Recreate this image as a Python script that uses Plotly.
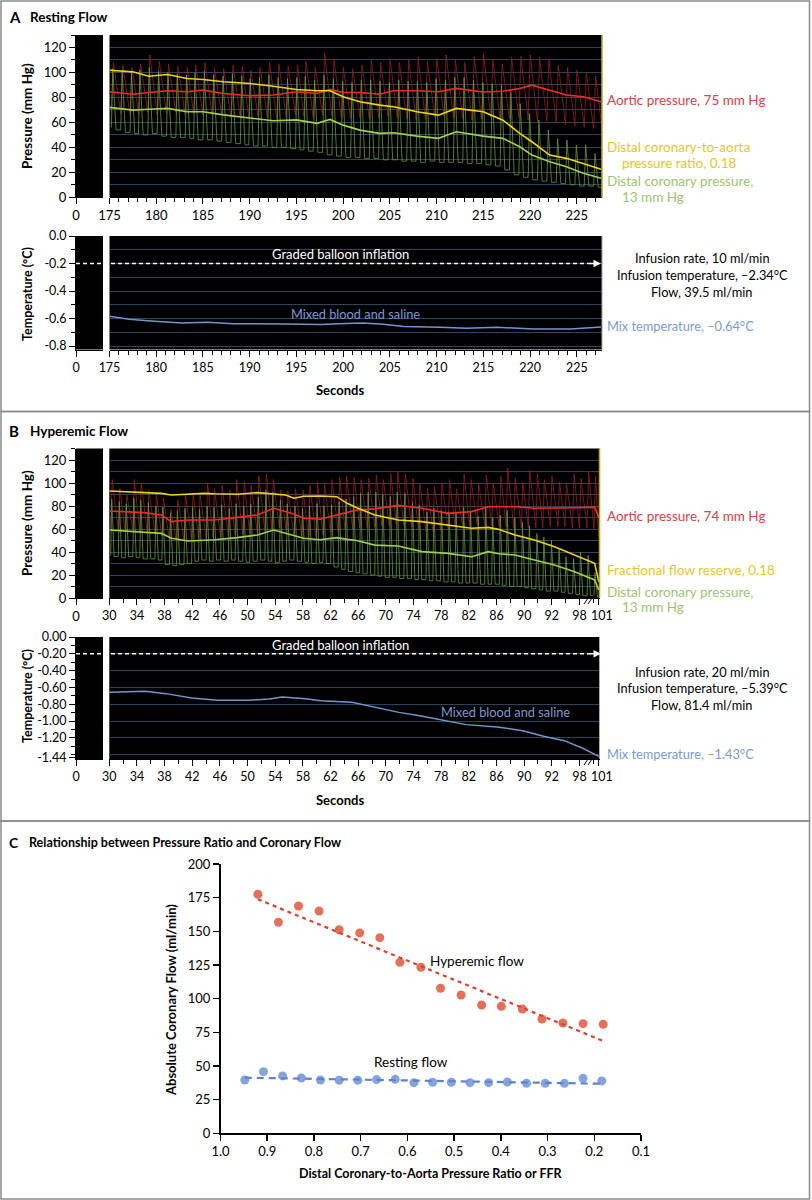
import plotly.graph_objects as go

W, H = 812, 1200
LATO = "Lato, Open Sans, sans-serif"
NARROW = "Lato, Open Sans, sans-serif"

# ---------------- Panel A: resting flow ----------------
A_beat_t = [175.2, 176.2, 177.2, 178.1, 179.1, 180.1, 181.1, 182.1, 183.1, 184.0,
            185.0, 186.0, 187.0, 188.0, 189.0, 189.9, 190.9, 191.9, 192.9, 193.9,
            194.9, 195.8, 196.8, 197.8, 198.8, 199.8, 200.8, 201.8, 202.8, 203.8,
            204.8, 205.8, 206.8, 207.8, 208.8, 209.8, 210.8, 211.8, 212.8, 213.8,
            214.8, 215.8, 216.8, 217.8, 218.8, 219.8, 220.8, 221.8, 222.8, 223.8,
            224.8, 225.8, 226.8, 227.7]
A_aortic_sys = [108, 106, 104, 107, 114, 109, 107, 105, 104, 106, 108, 104, 103, 106, 105, 102,
                104, 108, 107, 105, 106, 109, 104, 115, 110, 104, 103,
                106, 110, 108, 111, 108, 110, 112, 109, 111, 114, 110, 108, 113, 115, 110, 107,
                112, 113, 114, 112, 110, 106, 104, 102, 100, 97]
A_aortic_dia = [68, 67, 66, 67, 68, 66, 67, 68, 66, 67, 66, 65, 66, 64, 63, 64, 65, 64, 63, 64,
                66, 65, 64, 66, 65, 64, 63,
                64, 63, 64, 65, 64, 63, 62, 63, 64, 65, 64, 63, 62, 63, 64, 62, 63, 64, 62, 60,
                61, 60, 58, 57, 56, 55, 55]
A_distal_sys = [103, 101, 100, 102, 104, 101, 100, 99, 98, 100, 101, 98, 97, 99, 97, 95, 96, 98,
                96, 95, 96, 97, 94, 98, 95, 93, 92,
                94, 94, 93, 92, 94, 93, 93, 92, 95, 94, 96, 96, 94, 92, 91, 90, 84, 75, 67, 62,
                54, 47, 46, 42, 42, 35]
A_distal_dia = [56, 54, 52, 51, 50, 51, 49, 48, 48, 47, 46, 46, 45, 44, 43, 42, 41, 41, 40, 40,
                39, 38, 37, 36, 34, 33, 32,
                32, 31, 31, 30, 30, 29, 29, 28, 29, 28, 28, 28, 27, 27, 26, 25, 22, 18, 16, 14,
                13, 12, 11, 10, 9, 9, 8]

A_mean_t = [175.0, 177.5, 179.2, 181.2, 183.3, 185.0, 187.2, 190.0, 192.5, 195.0, 197.2, 198.6,
            200.0, 201.8, 203.9, 205.4, 207.9, 210.2, 212.1, 215.0, 217.1, 218.9, 220.2, 222.1,
            223.9, 225.7, 227.6]
A_ratio = [101.8, 100.5, 97.0, 98.4, 95.2, 94.4, 92.5, 91.2, 89.0, 86.4, 85.3, 85.3, 80.5, 76.5,
           73.8, 72.5, 68.5, 65.8, 71.2, 68.5, 61.8, 51.2, 44.5, 33.8, 31.2, 27.2, 22.4]
A_aortic_mean = [84.5, 82.6, 84.0, 85.3, 84.5, 85.8, 83.2, 81.3, 82.0, 84.5, 83.2, 86.4, 84.0,
                 84.0, 82.6, 85.3, 85.3, 84.5, 87.2, 84.3, 85.0, 87.2, 89.8, 85.8, 82.0, 80.5, 76.5]
A_distal_mean = [72.0, 69.8, 70.5, 71.2, 68.5, 68.5, 66.0, 63.2, 61.3, 62.0, 59.2, 62.4, 57.8,
                 53.8, 51.2, 51.7, 49.0, 47.2, 52.5, 49.0, 47.2, 40.5, 33.8, 28.5, 24.5, 19.2, 15.2]

A_temp_t = [175.0, 177.1, 179.4, 182.7, 185.5, 188.2, 193.8, 197.6, 199.5, 202.1, 204.3, 206.5,
            210.4, 213.2, 216.5, 218.7, 220.4, 224.3, 227.6]
A_temp = [-0.584, -0.605, -0.618, -0.632, -0.627, -0.637, -0.640, -0.644, -0.637, -0.632, -0.642,
          -0.657, -0.664, -0.671, -0.664, -0.669, -0.676, -0.676, -0.662]

A_xticks = [175, 180, 185, 190, 195, 200, 205, 210, 215, 220, 225]

# ---------------- Panel B: hyperemic flow ----------------
B_beat_t = [30.2, 31.3, 32.3, 33.4, 34.4, 35.5, 36.6, 37.6, 38.7, 39.7, 40.8, 41.9, 42.9, 44.0,
            45.0, 46.1, 47.2, 48.2, 49.3, 50.3, 51.4, 52.5, 53.5, 54.6, 55.6, 56.7, 57.8, 58.8,
            59.9, 60.9, 62.0, 63.1, 64.1, 65.2, 66.2, 67.3, 68.4, 69.4, 70.5, 71.5, 72.6, 73.7,
            74.7, 75.8, 76.8, 77.9, 79.0, 80.0, 81.1, 82.1, 83.2, 84.3, 85.3, 86.4, 87.4, 88.5,
            89.6, 90.6, 91.7, 92.7, 93.8, 94.9, 95.9, 97.0, 98.0, 99.1, 100.1, 100.8]
B_aortic_sys = [103, 95, 90, 103, 100, 94, 90, 87, 77, 85, 90, 91, 90, 100, 95, 98, 94, 103, 101,
                98, 106, 108, 103, 94, 93, 95, 94, 98, 101, 100, 103, 105, 106, 105,
                103, 104, 107, 103, 108, 110, 108, 104, 100, 95, 97, 100, 103, 95, 108, 103, 100,
                107, 100, 106, 113, 104, 101, 111, 108, 103, 106, 101, 100, 108, 104, 110, 106]
B_aortic_dia = [60, 59, 58, 59, 58, 57, 56, 54, 50, 49, 50, 51, 52, 52, 53, 53, 54, 55, 55, 56,
                57, 58, 60, 61, 58, 55, 54, 53, 53, 55, 57, 58, 59, 60, 61, 61, 62, 63, 63, 64,
                63, 62, 60, 58, 58, 59, 60, 62, 63, 63, 64, 63, 63, 62, 62, 61, 61, 61, 61, 61,
                62, 62, 62, 61, 61, 61, 60, 52]
B_distal_sys = [86, 84, 82, 87, 85, 83, 80, 79, 74, 76, 78, 79, 77, 80, 79, 81, 78, 82, 80, 82,
                88, 94, 92, 85, 82, 80, 78, 80, 82, 80, 81, 84, 86, 88,
                91, 92, 92, 90, 88, 92, 91, 83, 81, 75, 78, 76, 75, 75, 79, 76, 71, 78, 70, 72,
                76, 70, 66, 63, 56, 53, 50, 42, 36, 34, 40, 37, 22]
B_distal_dia = [37, 36, 35, 36, 35, 34, 34, 33, 29, 28, 29, 30, 32, 33, 32, 33, 32, 33, 32, 31,
                32, 33, 32, 31, 32, 33, 32, 31, 30, 31, 30, 27, 25, 23, 22, 21, 20, 19, 18, 18,
                17, 17, 16, 16, 15, 15, 14, 14, 13, 13, 13, 12, 12, 12, 11, 10, 10, 9, 8, 7,
                6, 6, 5, 4, 3, 2, 2, 1]

B_mean_t = [30.0, 35.1, 37.5, 39.0, 41.4, 43.7, 45.2, 48.5, 51.4, 53.8, 55.5, 56.7, 58.1, 60.5,
            62.9, 64.4, 65.8, 68.4, 71.8, 75.2, 79.0, 82.4, 84.8, 86.3, 88.7, 91.5, 94.4, 97.3,
            100.2, 100.8]
B_ffr = [93.0, 91.9, 91.0, 89.6, 90.5, 91.0, 90.6, 90.2, 91.6, 90.2, 89.5, 86.7, 88.5, 88.7,
         88.1, 82.3, 78.5, 72.2, 67.8, 66.4, 63.5, 60.6, 61.4, 59.7, 54.8, 50.4, 44.6, 37.4,
         30.1, 14.0]
B_aortic_mean = [75.7, 74.2, 72.2, 66.4, 67.8, 67.8, 67.8, 70.1, 72.2, 78.0, 75.1, 73.0, 69.3,
                 68.5, 72.2, 74.5, 76.5, 77.5, 80.5, 78.0, 73.6, 75.1, 79.4, 79.4, 79.4, 78.0,
                 78.0, 78.5, 79.0, 70.0]
B_distal_mean = [59.1, 56.8, 56.2, 51.9, 49.6, 50.2, 50.7, 52.5, 54.8, 59.1, 56.2, 54.0, 51.9,
                 50.7, 52.5, 51.0, 50.0, 46.0, 45.2, 40.3, 38.8, 35.9, 40.3, 38.5, 37.4, 33.0,
                 28.7, 22.9, 15.7, 7.0]

B_temp_t = [30.0, 35.2, 38.2, 41.9, 45.7, 50.1, 53.1, 55.0, 58.4, 60.6, 65.1, 68.1, 71.9, 74.9,
            77.5, 81.6, 86.1, 89.8, 92.8, 95.8, 98.4, 100.8]
B_temp = [-0.658, -0.647, -0.674, -0.726, -0.754, -0.754, -0.738, -0.714, -0.734, -0.758, -0.778,
          -0.833, -0.897, -0.936, -0.976, -1.043, -1.071, -1.115, -1.182, -1.234, -1.321, -1.42]

B_xtick_vals = [30, 34, 38, 42, 46, 50, 54, 58, 62, 66, 70, 74, 78, 82, 86, 90, 94, 98, 100.8]
B_xtick_text = ["30", "34", "38", "42", "46", "50", "54", "58", "62", "66", "70", "74", "78",
                "82", "86", "90", "92", "98", "\u2002101"]

# ---------------- Panel C ----------------
hyper_ratio = [0.920, 0.876, 0.833, 0.789, 0.746, 0.702, 0.659, 0.616, 0.571, 0.529, 0.485,
               0.441, 0.399, 0.354, 0.312, 0.267, 0.224, 0.181]
hyper_flow = [177.5, 156.7, 168.8, 165.1, 151.2, 148.8, 145.3, 127.0, 123.3, 107.7, 102.7,
              95.3, 94.3, 92.3, 84.9, 81.9, 81.4, 80.9]
rest_ratio = [0.948, 0.908, 0.867, 0.827, 0.786, 0.746, 0.706, 0.666, 0.626, 0.586, 0.546,
              0.506, 0.466, 0.426, 0.386, 0.345, 0.305, 0.264, 0.224, 0.184]
rest_flow = [39.6, 45.8, 42.6, 41.1, 39.6, 39.4, 39.4, 39.9, 40.1, 37.6, 37.9, 37.9, 37.6,
             37.6, 38.1, 37.1, 37.1, 37.1, 40.8, 38.9]
hyper_fit_ratio = [0.920, 0.181]
hyper_fit_flow = [173.8, 68.6]
rest_fit_ratio = [0.948, 0.184]
rest_fit_flow = [41.3, 36.8]

# ---------------- styling ----------------
RED_WAVE = "rgba(150,28,30,0.9)"
GREEN_WAVE = "rgba(108,158,60,0.85)"
RED_MEAN = "#ee2d26"
YELLOW = "#ecd41c"
GREEN_MEAN = "#a3d04a"
TEMP_BLUE = "#7196cf"
GRID = "#27465e"


def dx(a, b):
    return [a / W, b / W]


def dy(top, bottom):
    return [1 - bottom / H, 1 - top / H]


def wave_red(times, sys, dia, rise):
    n = min(len(sys), len(times) - 1, len(dia) - 1)
    xs, ys = [], []
    for i in range(n):
        xs += [times[i], times[i] + rise]
        ys += [dia[i], sys[i]]
    xs.append(times[n])
    ys.append(dia[n])
    return xs, ys


def wave_green(times, sys, dia, rise, fall):
    n = min(len(sys), len(times) - 1, len(dia) - 1)
    xs, ys = [], []
    for i in range(n):
        xs += [times[i], times[i] + rise, times[i] + fall]
        ys += [dia[i], sys[i], dia[i + 1]]
    xs.append(times[n])
    ys.append(dia[n])
    return xs, ys


fig = go.Figure()


def line(x, y, ax, color, width, shape="linear"):
    fig.add_trace(go.Scatter(x=x, y=y, mode="lines", xaxis="x" + ax, yaxis="y" + ax,
                             line=dict(color=color, width=width, shape=shape), hoverinfo="skip"))


# A pressure
xr, yr = wave_red(A_beat_t, A_aortic_sys, A_aortic_dia, 0.22)
line(xr, yr, "", RED_WAVE, 0.9)
xg, yg = wave_green(A_beat_t, A_distal_sys, A_distal_dia, 0.15, 0.5)
line(xg, yg, "", GREEN_WAVE, 0.9)
line(A_mean_t, A_aortic_mean, "", RED_MEAN, 1.6)
line(A_mean_t, A_ratio, "", YELLOW, 1.6)
line(A_mean_t, A_distal_mean, "", GREEN_MEAN, 1.6)
# A temp
line(A_temp_t, A_temp, "3", TEMP_BLUE, 1.5)
# B pressure
xr, yr = wave_red(B_beat_t, B_aortic_sys, B_aortic_dia, 0.22)
line(xr, yr, "5", RED_WAVE, 0.9)
xg, yg = wave_green(B_beat_t, B_distal_sys, B_distal_dia, 0.15, 0.5)
line(xg, yg, "5", GREEN_WAVE, 0.9)
line(B_mean_t, B_aortic_mean, "5", RED_MEAN, 1.6)
line(B_mean_t, B_ffr, "5", YELLOW, 1.6)
line(B_mean_t, B_distal_mean, "5", GREEN_MEAN, 1.6)
# B temp
line(B_temp_t, B_temp, "7", TEMP_BLUE, 1.5)
# empty traces for left boxes
for ax in ["2", "4", "6", "8"]:
    fig.add_trace(go.Scatter(x=[], y=[], xaxis="x" + ax, yaxis="y" + ax, mode="lines"))

# C
fig.add_trace(go.Scatter(x=hyper_ratio, y=hyper_flow, mode="markers", xaxis="x9", yaxis="y9",
                         marker=dict(size=9, color="#e4705a", line=dict(width=0))))
fig.add_trace(go.Scatter(x=rest_ratio, y=rest_flow, mode="markers", xaxis="x9", yaxis="y9",
                         marker=dict(size=9, color="#85a3dc", line=dict(width=0))))
fig.add_trace(go.Scatter(x=hyper_fit_ratio, y=hyper_fit_flow, mode="lines", xaxis="x9", yaxis="y9",
                         line=dict(color="#d8432f", width=2.2, dash="4px,4px")))
fig.add_trace(go.Scatter(x=rest_fit_ratio, y=rest_fit_flow, mode="lines", xaxis="x9", yaxis="y9",
                         line=dict(color="#5f82cf", width=2.2, dash="7px,5px")))

# ---------------- axes ----------------
TICKFONT = dict(family=LATO, size=13, color="black")
BTICKFONT = dict(family=LATO, size=12.5, color="black")
NTICKFONT = dict(family=NARROW, size=12.5, color="black")


def tick_axis(**kw):
    base = dict(showgrid=False, zeroline=False, showline=True, linecolor="black", linewidth=1,
                ticks="outside", ticklen=6, tickwidth=1, tickcolor="black", fixedrange=True,
                automargin=False, tickangle=0)
    base.update(kw)
    return base


def main_y(rng, dom, anchor, dtick):
    return dict(range=rng, domain=dom, anchor=anchor, showgrid=True, gridcolor=GRID,
                gridwidth=1, dtick=dtick, tick0=0, showticklabels=False, ticks="",
                showline=False, zeroline=False, automargin=False, fixedrange=True)


A_P = (35, 197.3)
A_T = (236, 349.5)
B_P = (448.5, 598)
B_T = (637, 759)
MAIN_X_A = dx(109.5, 602)
MAIN_X_B = dx(109.3, 599.5)
LEFT_X = dx(76, 103)

P_TICKS = [0, 20, 40, 60, 80, 100, 120]
MINOR = dict(ticklen=4, tickcolor="black", ticks="outside")

layout_axes = dict(
    xaxis=tick_axis(domain=MAIN_X_A, anchor="y", range=[175, 227.7], tickvals=A_xticks,
                    ticktext=[str(v) for v in A_xticks], tickfont=TICKFONT,
                    minor=dict(dtick=1, tick0=175, **MINOR)),
    yaxis=main_y([0, 130], dy(*A_P), "x", 10),
    xaxis2=tick_axis(domain=LEFT_X, anchor="y2", range=[0, 2.9], tickvals=[0], ticktext=["0"],
                     tickfont=TICKFONT),
    yaxis2=tick_axis(domain=dy(*A_P), anchor="x2", range=[0, 130], tickvals=P_TICKS,
                     ticktext=[str(v) for v in P_TICKS], tickfont=TICKFONT,
                     minor=dict(dtick=10, tick0=0, **MINOR)),
    xaxis3=tick_axis(domain=MAIN_X_A, anchor="y3", range=[175, 227.7], tickvals=A_xticks,
                     ticktext=[str(v) for v in A_xticks], tickfont=NTICKFONT,
                     minor=dict(dtick=1, tick0=175, **MINOR)),
    yaxis3=main_y([-0.825, 0], dy(*A_T), "x3", 0.1),
    xaxis4=tick_axis(domain=LEFT_X, anchor="y4", range=[0, 2.9], tickvals=[0], ticktext=["0"],
                     tickfont=NTICKFONT),
    yaxis4=tick_axis(domain=dy(*A_T), anchor="x4", range=[-0.825, 0],
                     tickvals=[0, -0.2, -0.4, -0.6, -0.8],
                     ticktext=["0.0", "-0.2", "-0.4", "-0.6", "-0.8"], tickfont=NTICKFONT,
                     minor=dict(dtick=0.1, tick0=0, **MINOR)),
    xaxis5=tick_axis(domain=MAIN_X_B, anchor="y5", range=[30, 100.9], tickvals=B_xtick_vals,
                     ticktext=B_xtick_text, tickfont=BTICKFONT,
                     minor=dict(dtick=2, tick0=30, **MINOR)),
    yaxis5=main_y([0, 130], dy(*B_P), "x5", 10),
    xaxis6=tick_axis(domain=LEFT_X, anchor="y6", range=[0, 2.9], tickvals=[0], ticktext=["0"],
                     tickfont=TICKFONT),
    yaxis6=tick_axis(domain=dy(*B_P), anchor="x6", range=[0, 130], tickvals=P_TICKS,
                     ticktext=[str(v) for v in P_TICKS], tickfont=TICKFONT,
                     minor=dict(dtick=10, tick0=0, **MINOR)),
    xaxis7=tick_axis(domain=MAIN_X_B, anchor="y7", range=[30, 100.9], tickvals=B_xtick_vals,
                     ticktext=B_xtick_text, tickfont=NTICKFONT,
                     minor=dict(dtick=2, tick0=30, **MINOR)),
    yaxis7=main_y([-1.452, 0], dy(*B_T), "x7", 0.2),
    xaxis8=tick_axis(domain=LEFT_X, anchor="y8", range=[0, 2.9], tickvals=[0], ticktext=["0"],
                     tickfont=NTICKFONT),
    yaxis8=tick_axis(domain=dy(*B_T), anchor="x8", range=[-1.452, 0],
                     tickvals=[0, -0.2, -0.4, -0.6, -0.8, -1.0, -1.2, -1.44],
                     ticktext=["0.00", "-0.20", "-0.40", "-0.60", "-0.80", "-1.00", "-1.20", "-1.44"],
                     tickfont=NTICKFONT,
                     minor=dict(dtick=0.1, tick0=0, **MINOR)),
    xaxis9=tick_axis(domain=dx(220.5, 641), anchor="y9", range=[1.0, 0.1],
                     tickvals=[1.0, 0.9, 0.8, 0.7, 0.6, 0.5, 0.4, 0.3, 0.2, 0.1],
                     ticktext=["1.0", "0.9", "0.8", "0.7", "0.6", "0.5", "0.4", "0.3", "0.2", "0.1"],
                     tickfont=TICKFONT, linewidth=1.5, tickwidth=1.5),
    yaxis9=tick_axis(domain=dy(864, 1133.3), anchor="x9", range=[0, 200],
                     tickvals=[0, 25, 50, 75, 100, 125, 150, 175, 200], tickfont=TICKFONT,
                     linewidth=1.5, tickwidth=1.5),
)

# ---------------- shapes ----------------
shapes = []
for (t, b) in [(1, 411.5), (411.5, 821), (821, 1199)]:
    shapes.append(dict(type="rect", xref="paper", yref="paper", x0=1 / W, x1=809.5 / W,
                       y0=1 - b / H, y1=1 - t / H, line=dict(color="#8a8a8a", width=1.5),
                       fillcolor="rgba(0,0,0,0)", layer="above"))
for ax in ["", "2", "3", "4", "5", "6", "7", "8"]:
    shapes.append(dict(type="rect", xref="x%s domain" % ax, yref="y%s domain" % ax,
                       x0=0, x1=1, y0=0, y1=1, fillcolor="black", line=dict(width=0),
                       layer="below"))
for ax in ["", "5"]:
    shapes.append(dict(type="line", xref="x%s domain" % ax, yref="y%s domain" % ax,
                       x0=1, x1=1, y0=0, y1=1, line=dict(color="#b9ad2c", width=1.5)))
for ax in ["3", "7"]:
    shapes.append(dict(type="line", xref="x%s domain" % ax, yref="y%s domain" % ax,
                       x0=1, x1=1, y0=0, y1=1, line=dict(color="#a9a9a9", width=1)))
for ax in ["3", "7"]:
    shapes.append(dict(type="line", xref="paper", yref="y" + ax, x0=76 / W, x1=592 / W,
                       y0=-0.2, y1=-0.2, line=dict(color="white", width=1.5, dash="4px,3px")))
for ybreak in [599, 760]:
    for xb in [584, 588]:
        shapes.append(dict(type="line", xref="paper", yref="paper",
                           x0=xb / W, x1=(xb + 6) / W, y0=1 - (ybreak + 5) / H,
                           y1=1 - (ybreak - 4) / H, line=dict(color="black", width=1)))

# ---------------- annotations ----------------
ann = []


def A(text, x, y, size=13, color="black", family=LATO, xanchor="left", **kw):
    d = dict(text=text, x=x / W, y=1 - y / H, xref="paper", yref="paper", showarrow=False,
             xanchor=xanchor, yanchor="middle",
             font=dict(size=size, color=color, family=family))
    d.update(kw)
    ann.append(d)


A("<b>A</b>", 7, 17, size=15)
A("<b>Resting Flow</b>", 28, 17, size=13.5)
A("<b>B</b>", 7, 431, size=15)
A("<b>Hyperemic Flow</b>", 28, 431, size=13.5)
A("<b>C</b>", 7, 842, size=14)
A("<b>Relationship between Pressure Ratio and Coronary Flow</b>", 27, 842, size=12.5)

A("<b>Pressure (mm Hg)</b>", 27, 116, size=13.5, xanchor="center", textangle=-90)
A("<b>Temperature (°C)</b>", 27, 294, size=12.5, xanchor="center", textangle=-90)
A("<b>Pressure (mm Hg)</b>", 27, 523, size=13.5, xanchor="center", textangle=-90)
A("<b>Temperature (°C)</b>", 27, 696, size=12.5, xanchor="center", textangle=-90)
A("<b>Absolute Coronary Flow (ml/min)</b>", 171, 1000, size=13, xanchor="center", textangle=-90)
A("<b>Seconds</b>", 340, 390, size=13, family=NARROW, xanchor="center")
A("<b>Seconds</b>", 340, 800, size=13, family=NARROW, xanchor="center")
A("<b>Distal Coronary-to-Aorta Pressure Ratio or FFR</b>", 431, 1173, size=12.5, xanchor="center")

RED_TXT, YEL_TXT, GRN_TXT, BLU_TXT = "#d2434a", "#e6c62c", "#9cc46e", "#7a9ad2"
A("Aortic pressure, 75 mm Hg", 605, 100, size=13.5, color=RED_TXT)
A("Distal coronary-to-aorta", 605, 147, size=13.5, color=YEL_TXT)
A("pressure ratio, 0.18", 620, 163, size=13.5, color=YEL_TXT)
A("Distal coronary pressure,", 605, 181, size=13.5, color=GRN_TXT)
A("13 mm Hg", 620, 197, size=13.5, color=GRN_TXT)

A("Aortic pressure, 74 mm Hg", 605, 516, size=13.5, color=RED_TXT)
A("Fractional flow reserve, 0.18", 605, 570, size=13.5, color=YEL_TXT)
A("Distal coronary pressure,", 605, 592, size=13.5, color=GRN_TXT)
A("13 mm Hg", 620, 607, size=13.5, color=GRN_TXT)

A("Graded balloon inflation", 340, 254, size=13, color="white", family=NARROW, xanchor="center")
A("Graded balloon inflation", 340, 645, size=13, color="white", family=NARROW, xanchor="center")
A("Mixed blood and saline", 355, 314, size=12.8, color=BLU_TXT, family=NARROW, xanchor="center")
A("Mixed blood and saline", 505, 712, size=12.8, color=BLU_TXT, family=NARROW, xanchor="center")
A("Mix temperature, –0.64°C", 605, 326, size=12.8, color=BLU_TXT, family=NARROW)
A("Mix temperature, –1.43°C", 605, 754, size=12.8, color=BLU_TXT, family=NARROW)
for y, t in [(258, "Infusion rate, 10 ml/min"), (275, "Infusion temperature, –2.34°C"),
             (291.5, "Flow, 39.5 ml/min"), (671.5, "Infusion rate, 20 ml/min"),
             (688, "Infusion temperature, –5.39°C"), (705, "Flow, 81.4 ml/min")]:
    A(t, 702, y, size=12.8, family=NARROW, xanchor="center")

A("Hyperemic flow", 477, 961, size=13.5, xanchor="center")
A("Resting flow", 411, 1062, size=13.5, xanchor="center")

for ax in ["3", "7"]:
    ann.append(dict(x=601 / W, y=-0.2, xref="paper", yref="y" + ax, text="", showarrow=True,
                    ax=-12, ay=0, axref="pixel", ayref="pixel", arrowhead=2, arrowsize=1,
                    arrowwidth=1.5, arrowcolor="white"))

fig.update_layout(
    width=W, height=H, margin=dict(l=0, r=0, t=0, b=0, autoexpand=False),
    paper_bgcolor="white", plot_bgcolor="rgba(0,0,0,0)",
    showlegend=False, shapes=shapes, annotations=ann,
    font=dict(family=LATO, color="black"),
    **layout_axes,
)

fig.write_html("out.html", config={"displayModeBar": False, "staticPlot": True},
               post_script="document.body.style.margin='0';document.body.style.padding='0';")
